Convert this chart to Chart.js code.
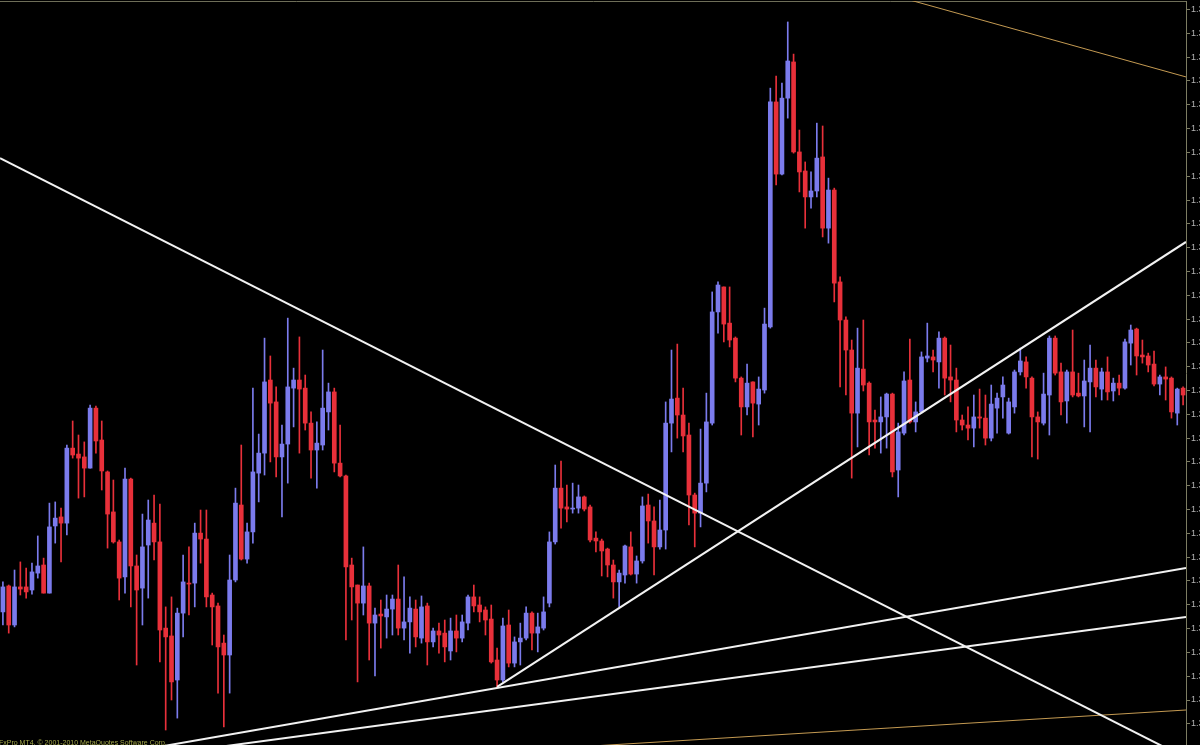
<!DOCTYPE html>
<html><head><meta charset="utf-8">
<script src="https://cdn.jsdelivr.net/npm/chart.js@4.4.1/dist/chart.umd.min.js"></script>
<style>
html,body{margin:0;padding:0;background:#000;overflow:hidden;}
#wrap{position:relative;width:1200px;height:745px;overflow:hidden;}
#copy{position:absolute;left:-1px;top:739px;font:7px "Liberation Sans",Arial,sans-serif;color:#a3a84a;white-space:nowrap;}
</style></head><body>
<div id="wrap"><canvas id="c" width="1200" height="745"></canvas><div id="copy">FxPro MT4, © 2001-2010 MetaQuotes Software Corp.</div></div>
<script>
// ---- candle data (EURUSD-like) ----
const openP = [1.32070,1.32179,1.32015,1.32175,1.32175,1.32162,1.32233,1.32267,1.32149,1.32431,
1.32469,1.32443,1.32758,1.32733,1.32721,1.32674,1.32926,1.32792,1.32658,1.32490,
1.32364,1.32217,1.32628,1.32263,1.32170,1.32351,1.32443,1.32364,1.32002,1.31969,
1.31784,1.32065,1.32191,1.32191,1.32401,1.32376,1.32141,1.32095,1.31939,1.31889,
1.32204,1.32519,1.32292,1.32406,1.32653,1.32737,1.33044,1.32952,1.32721,1.32775,
1.33010,1.33044,1.33010,1.32863,1.32750,1.32771,1.32910,1.32994,1.32695,1.32641,
1.32267,1.32183,1.32107,1.32179,1.32023,1.32061,1.32049,1.32082,1.32124,1.32002,
1.32028,1.32082,1.31960,1.32095,1.31944,1.31990,1.31981,1.31906,1.31990,1.31960,
1.32023,1.32133,1.32099,1.32078,1.32040,1.31868,1.31784,1.32015,1.31855,1.31944,
1.31960,1.32065,1.31981,1.32002,1.32107,1.32364,1.32590,1.32511,1.32502,1.32506,
1.32553,1.32511,1.32380,1.32368,1.32334,1.32267,1.32196,1.32225,1.32343,1.32229,
1.32284,1.32519,1.32452,1.32343,1.32414,1.32863,1.32968,1.32897,1.32813,1.32561,
1.32485,1.32611,1.32863,1.33330,1.33435,1.33283,1.33220,1.33052,1.32931,1.33036,
1.32943,1.33002,1.33267,1.34212,1.33909,1.34228,1.34380,1.34002,1.33922,1.33813,
1.33838,1.33981,1.33682,1.33842,1.33456,1.33296,1.33170,1.32905,1.33090,1.33031,
1.32876,1.32868,1.32889,1.32985,1.32666,1.32821,1.33044,1.32868,1.32910,1.33136,
1.33141,1.33120,1.33220,1.33057,1.33044,1.32876,1.32855,1.32842,1.32889,1.32884,
1.32800,1.32926,1.32973,1.32821,1.32931,1.33078,1.33120,1.33052,1.32889,1.32863,
1.32981,1.33220,1.33078,1.32956,1.33078,1.32989,1.32977,1.33036,1.33094,1.33006,
1.33078,1.32998,1.33031,1.33010,1.33199,1.33258,1.33149,1.33145,1.33111,1.33027,
1.33057,1.33052,1.32905,1.33010];
const highP = [1.32196,1.32183,1.32246,1.32280,1.32254,1.32275,1.32389,1.32296,1.32527,1.32532,
1.32506,1.32771,1.32872,1.32813,1.32784,1.32939,1.32935,1.32872,1.32662,1.32624,
1.32372,1.32674,1.32632,1.32309,1.32481,1.32540,1.32561,1.32523,1.32091,1.32133,
1.32086,1.32309,1.32343,1.32443,1.32498,1.32498,1.32149,1.32107,1.31973,1.32309,
1.32590,1.32771,1.32443,1.33010,1.32817,1.33220,1.33145,1.33015,1.32855,1.33304,
1.33094,1.33225,1.33065,1.32910,1.32868,1.33170,1.33031,1.33010,1.32855,1.32645,
1.32296,1.32183,1.32343,1.32191,1.32086,1.32120,1.32141,1.32141,1.32267,1.32217,
1.32133,1.32120,1.32137,1.32107,1.32002,1.32023,1.32036,1.32044,1.32057,1.32057,
1.32141,1.32183,1.32133,1.32091,1.32099,1.31918,1.32044,1.32078,1.31965,1.32023,
1.32091,1.32070,1.32065,1.32133,1.32406,1.32687,1.32704,1.32603,1.32611,1.32603,
1.32557,1.32519,1.32406,1.32376,1.32338,1.32288,1.32246,1.32351,1.32406,1.32305,
1.32553,1.32565,1.32511,1.32540,1.32952,1.33170,1.33195,1.33010,1.32863,1.32569,
1.32838,1.32989,1.33414,1.33456,1.33435,1.33435,1.33225,1.33057,1.33111,1.33036,
1.33057,1.33346,1.34270,1.34321,1.34291,1.34548,1.34413,1.34094,1.33960,1.33918,
1.34123,1.34111,1.33892,1.33850,1.33477,1.33309,1.33212,1.33262,1.33296,1.33036,
1.32918,1.32973,1.32989,1.32989,1.32863,1.33078,1.33216,1.32952,1.33162,1.33283,
1.33170,1.33246,1.33225,1.33191,1.33094,1.32897,1.32931,1.32981,1.33006,1.32981,
1.33023,1.32989,1.33057,1.32968,1.33086,1.33178,1.33141,1.33057,1.32910,1.33073,
1.33229,1.33229,1.33115,1.33086,1.33254,1.33073,1.33128,1.33191,1.33128,1.33094,
1.33141,1.33052,1.33065,1.33216,1.33275,1.33262,1.33212,1.33157,1.33166,1.33065,
1.33099,1.33057,1.33010,1.33015];
const lowP = [1.32015,1.31981,1.32007,1.32141,1.32128,1.32145,1.32212,1.32149,1.32149,1.32359,
1.32280,1.32393,1.32716,1.32548,1.32553,1.32674,1.32737,1.32582,1.32338,1.32359,
1.32120,1.32149,1.32091,1.31847,1.32015,1.32128,1.32288,1.31860,1.31574,1.31700,
1.31624,1.31965,1.32057,1.32091,1.32275,1.32091,1.31931,1.31729,1.31587,1.31729,
1.32196,1.32288,1.32275,1.32359,1.32532,1.32645,1.32700,1.32637,1.32469,1.32611,
1.32847,1.32737,1.32834,1.32632,1.32590,1.32750,1.32834,1.32658,1.32637,1.31952,
1.32036,1.31776,1.32057,1.31868,1.31801,1.31918,1.31960,1.31973,1.31973,1.31952,
1.31897,1.31923,1.31939,1.31847,1.31923,1.31897,1.31860,1.31868,1.31902,1.31944,
1.31994,1.32070,1.32028,1.31973,1.31855,1.31755,1.31776,1.31839,1.31839,1.31847,
1.31952,1.31910,1.31902,1.31994,1.32091,1.32355,1.32422,1.32448,1.32485,1.32485,
1.32494,1.32364,1.32322,1.32221,1.32217,1.32128,1.32091,1.32191,1.32225,1.32191,
1.32275,1.32359,1.32225,1.32334,1.32334,1.32742,1.32800,1.32742,1.32435,1.32343,
1.32427,1.32574,1.32855,1.33241,1.33204,1.33183,1.33036,1.32813,1.32897,1.32805,
1.32855,1.32989,1.33262,1.33863,1.33905,1.34144,1.33997,1.33834,1.33682,1.33766,
1.33813,1.33645,1.33619,1.33372,1.33015,1.32981,1.32632,1.32763,1.32998,1.32729,
1.32758,1.32737,1.32758,1.32637,1.32553,1.32813,1.32863,1.32826,1.32905,1.33120,
1.33078,1.33010,1.32981,1.32952,1.32826,1.32834,1.32792,1.32763,1.32842,1.32771,
1.32788,1.32821,1.32884,1.32817,1.32905,1.33065,1.33010,1.32721,1.32712,1.32855,
1.32813,1.33065,1.32897,1.32863,1.32973,1.32973,1.32847,1.32826,1.32973,1.32960,
1.32960,1.32956,1.32981,1.33006,1.33107,1.33065,1.33115,1.33078,1.33019,1.32981,
1.32960,1.32884,1.32855,1.32939];
const closeP = [1.32175,1.32015,1.32175,1.32166,1.32154,1.32238,1.32263,1.32149,1.32427,1.32464,
1.32443,1.32758,1.32729,1.32716,1.32674,1.32926,1.32788,1.32662,1.32481,1.32364,
1.32212,1.32628,1.32263,1.32162,1.32343,1.32456,1.32364,1.31994,1.31965,1.31776,
1.32065,1.32196,1.32187,1.32401,1.32376,1.32133,1.32091,1.31923,1.31889,1.32204,
1.32527,1.32292,1.32406,1.32658,1.32737,1.33036,1.32947,1.32721,1.32775,1.33015,
1.33044,1.33006,1.32863,1.32750,1.32779,1.32926,1.32994,1.32695,1.32641,1.32259,
1.32175,1.32107,1.32179,1.32023,1.32057,1.32053,1.32082,1.32124,1.32002,1.32028,
1.32086,1.31965,1.32091,1.31944,1.31990,1.31973,1.31923,1.31990,1.31960,1.32028,
1.32133,1.32095,1.32070,1.32036,1.31860,1.31784,1.32011,1.31855,1.31944,1.31960,
1.32065,1.31981,1.32007,1.32070,1.32364,1.32590,1.32506,1.32502,1.32506,1.32553,
1.32502,1.32372,1.32368,1.32326,1.32267,1.32196,1.32233,1.32347,1.32229,1.32284,
1.32515,1.32452,1.32343,1.32414,1.32863,1.32964,1.32897,1.32809,1.32561,1.32485,
1.32611,1.32868,1.33330,1.33443,1.33279,1.33212,1.33052,1.32931,1.33031,1.32947,
1.33006,1.33279,1.34212,1.33909,1.34228,1.34384,1.34002,1.33918,1.33813,1.33838,
1.33976,1.33682,1.33842,1.33451,1.33296,1.33170,1.32905,1.33094,1.33023,1.32868,
1.32868,1.32889,1.32985,1.32658,1.32826,1.33040,1.32868,1.32910,1.33141,1.33145,
1.33128,1.33220,1.33052,1.33044,1.32876,1.32855,1.32842,1.32889,1.32884,1.32800,
1.32943,1.32968,1.33023,1.32952,1.33078,1.33124,1.33057,1.32889,1.32868,1.32985,
1.33220,1.33073,1.32952,1.33078,1.32981,1.32977,1.33040,1.33094,1.33015,1.33078,
1.32994,1.33031,1.33010,1.33204,1.33254,1.33145,1.33141,1.33107,1.33027,1.33057,
1.33048,1.32910,1.33006,1.32981];

// ---- drawn trendlines: [bar index, price] anchors ----
const downTrendX = [-0.5, 203.5];   const downTrendY = [1.33976, 1.31456];
const upRayX     = [85, 203.5];     const upRayY     = [1.31755, 1.33624];
const lowLineAX  = [-0.5, 203.5];   const lowLineAY  = [1.31387, 1.32254];
const lowLineBX  = [-0.5, 203.5];   const lowLineBY  = [1.31379, 1.32049];
const goldTopX   = [150, 203.5];    const goldTopY   = [1.34681, 1.34317];
const goldBotX   = [-0.5, 203.5];   const goldBotY   = [1.31356, 1.31658];

// ---- axis range / ticks ----
const priceMin = 1.31511, priceMax = 1.34636, priceStep = 0.001;
const barCount = openP.length;

const BULL = '#7b7bec', BEAR = '#e8303a';
const barNo = openP.map((_, i) => i);
const candleColors = barNo.map(i => closeP[i] >= openP[i] ? BULL : BEAR);
const pts = (xs, ys) => xs.map((x, k) => ({x: x, y: ys[k]}));
const lineDs = (xs, ys, color, w) => ({
  type: 'line', data: pts(xs, ys), borderColor: color, borderWidth: w,
  pointRadius: 0, tension: 0, fill: false, order: 0
});

new Chart(document.getElementById('c'), {
  type: 'bar',
  data: {
    datasets: [
      lineDs(downTrendX, downTrendY, '#f2f2f2', 2),
      lineDs(upRayX, upRayY, '#f2f2f2', 2),
      lineDs(lowLineAX, lowLineAY, '#f2f2f2', 2),
      lineDs(lowLineBX, lowLineBY, '#f2f2f2', 2),
      lineDs(goldTopX, goldTopY, '#c49a52', 1),
      lineDs(goldBotX, goldBotY, '#c49a52', 1),
      { type: 'bar', data: barNo.map(i => ({x: i, y: [openP[i], closeP[i]]})),
        backgroundColor: candleColors, barThickness: 4, grouped: false, minBarLength: 1, order: 2 },
      { type: 'bar', data: barNo.map(i => ({x: i, y: [lowP[i], highP[i]]})),
        backgroundColor: candleColors, barThickness: 1, grouped: false, order: 3 }
    ]
  },
  options: {
    responsive: false, animation: false, devicePixelRatio: 1,
    layout: { padding: 0, autoPadding: false },
    plugins: { legend: { display: false }, tooltip: { enabled: false }, title: { display: false } },
    scales: {
      x: {
        type: 'linear', position: 'top', min: -0.5, max: barCount - 0.5, offset: false,
        ticks: { display: false }, grid: { display: false },
        border: { display: true, color: '#6e6e58', width: 1 },
        afterFit: s => { s.height = 1; s.paddingLeft = 0; s.paddingRight = 0; }
      },
      y: {
        type: 'linear', position: 'right', min: priceMin, max: priceMax,
        ticks: { stepSize: priceStep, includeBounds: false, autoSkip: false, padding: 1,
                 color: '#b4b4b4', font: { family: 'Liberation Sans', size: 9 },
                 callback: v => v.toFixed(4) },
        grid: { drawOnChartArea: false, tickLength: 4, color: '#7c7c62' },
        border: { display: true, color: '#7c7c62', width: 1 },
        afterFit: s => { s.width = 14; s.paddingTop = 0; s.paddingBottom = 0; }
      }
    }
  }
});
</script>
</body></html>
